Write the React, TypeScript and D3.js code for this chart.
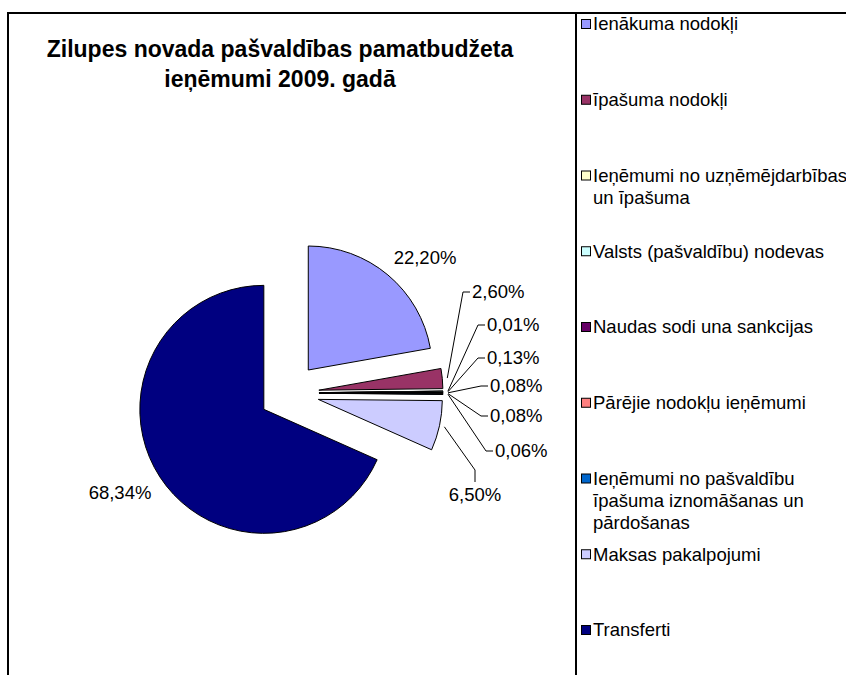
import React, { useEffect, useRef } from "react";
import * as d3 from "d3";

// Chart data
const categories = [
  "Ienākuma nodokļi",
  "Īpašuma nodokļi",
  "Ieņēmumi no uzņēmējdarbības un īpašuma",
  "Valsts (pašvaldību) nodevas",
  "Naudas sodi una sankcijas",
  "Pārējie nodokļu ieņēmumi",
  "Ieņēmumi no pašvaldību īpašuma iznomāšanas un pārdošanas",
  "Maksas pakalpojumi",
  "Transferti",
];
const values = [22.2, 2.6, 0.01, 0.13, 0.08, 0.08, 0.06, 6.5, 68.34];
const valueLabels = ["22,20%", "2,60%", "0,01%", "0,13%", "0,08%", "0,08%", "0,06%", "6,50%", "68,34%"];
const colors = ["#9999FF", "#993366", "#FFFFCC", "#CCFFFF", "#660066", "#FF8080", "#0066CC", "#CCCCFF", "#000080"];
const legendLines = [
  ["Ienākuma nodokļi"],
  ["īpašuma nodokļi"],
  ["Ieņēmumi no uzņēmējdarbības", "un īpašuma"],
  ["Valsts (pašvaldību) nodevas"],
  ["Naudas sodi una sankcijas"],
  ["Pārējie nodokļu ieņēmumi"],
  ["Ieņēmumi no pašvaldību", "īpašuma iznomāšanas un", "pārdošanas"],
  ["Maksas pakalpojumi"],
  ["Transferti"],
];
const titleLines = ["Zilupes novada pašvaldības pamatbudžeta", "ieņēmumi 2009. gadā"];

// label placement (layout only): x, y, anchor, leader type
const labelLayout: { x: number; y: number; anchor: string; leader: "none" | "side" | "down" }[] = [
  { x: 425, y: 258, anchor: "middle", leader: "none" },
  { x: 472, y: 292, anchor: "start", leader: "side" },
  { x: 487, y: 325, anchor: "start", leader: "side" },
  { x: 487, y: 358, anchor: "start", leader: "side" },
  { x: 490, y: 386, anchor: "start", leader: "side" },
  { x: 490, y: 416, anchor: "start", leader: "side" },
  { x: 495, y: 451, anchor: "start", leader: "side" },
  { x: 475, y: 495, anchor: "middle", leader: "down" },
  { x: 120, y: 493, anchor: "middle", leader: "none" },
];

const FONT = "'Liberation Sans', Arial, sans-serif";

const App: React.FC = () => {
  const svgRef = useRef<SVGSVGElement | null>(null);

  useEffect(() => {
    if (!svgRef.current) return;
    const svg = d3.select(svgRef.current);
    svg.selectAll("*").remove();

    const width = 846;
    const height = 675;
    svg.attr("width", width).attr("height", height);

    // frame
    svg.append("rect").attr("x", 0).attr("y", 0).attr("width", width).attr("height", height).attr("fill", "#fff");
    const frame = svg.append("g").attr("stroke", "#000").attr("stroke-width", 2);
    frame.append("line").attr("x1", 7).attr("x2", width).attr("y1", 13).attr("y2", 13);
    frame.append("line").attr("x1", 8).attr("x2", 8).attr("y1", 13).attr("y2", height);
    frame.append("line").attr("x1", 576).attr("x2", 576).attr("y1", 13).attr("y2", height);

    // title
    svg
      .append("g")
      .selectAll("text")
      .data(titleLines)
      .enter()
      .append("text")
      .attr("x", 280)
      .attr("y", (_, i) => 57 + i * 30)
      .attr("text-anchor", "middle")
      .attr("font-family", FONT)
      .attr("font-weight", "bold")
      .attr("font-size", "23px")
      .text((d) => d);

    // pie
    const cx = 289;
    const cy = 393;
    const radius = 124;
    const explode = 30;

    const pie = d3
      .pie<number>()
      .sort(null)
      .value((d) => d)
      .startAngle(0)
      .endAngle(2 * Math.PI);
    const arcs = pie(values);
    const arc = d3.arc<d3.PieArcDatum<number>>().innerRadius(0).outerRadius(radius);

    const dir = (a: number) => [Math.sin(a), -Math.cos(a)];
    const mid = (d: d3.PieArcDatum<number>) => (d.startAngle + d.endAngle) / 2;

    const pieG = svg.append("g").attr("transform", `translate(${cx},${cy})`);
    pieG
      .selectAll("path")
      .data(arcs)
      .enter()
      .append("path")
      .attr("transform", (d) => {
        const [dx, dy] = dir(mid(d));
        return `translate(${dx * explode},${dy * explode})`;
      })
      .attr("d", arc)
      .attr("fill", (_, i) => colors[i])
      .attr("stroke", "#000")
      .attr("stroke-width", 1)
      .attr("stroke-linejoin", "round");

    // leader lines
    const leaders = svg.append("g").attr("fill", "none").attr("stroke", "#000").attr("stroke-width", 1);
    arcs.forEach((d, i) => {
      const lay = labelLayout[i];
      if (lay.leader === "none") return;
      const [dx, dy] = dir(mid(d));
      const sx = cx + dx * (explode + radius + 5);
      const sy = cy + dy * (explode + radius + 5);
      let pts: [number, number][];
      if (lay.leader === "side") {
        pts = [
          [sx, sy],
          [lay.x - 9, lay.y],
          [lay.x - 2, lay.y],
        ];
      } else {
        pts = [
          [sx, sy],
          [lay.x, lay.y - 25],
          [lay.x, lay.y - 13],
        ];
      }
      leaders.append("path").attr("d", d3.line()(pts));
    });

    // value labels
    svg
      .append("g")
      .selectAll("text")
      .data(valueLabels)
      .enter()
      .append("text")
      .attr("x", (_, i) => labelLayout[i].x)
      .attr("y", (_, i) => labelLayout[i].y)
      .attr("dy", "0.35em")
      .attr("text-anchor", (_, i) => labelLayout[i].anchor)
      .attr("font-family", FONT)
      .attr("font-size", "18.5px")
      .attr("fill", "#000")
      .text((d) => d);

    // legend
    const legendX = 581;
    const legendY0 = 24;
    const legendStep = 75.75;
    const legend = svg.append("g");
    const items = legend
      .selectAll("g")
      .data(categories)
      .enter()
      .append("g")
      .attr("transform", (_, i) => `translate(${legendX},${legendY0 + i * legendStep})`);
    items
      .append("rect")
      .attr("x", 0.5)
      .attr("y", -4.5)
      .attr("width", 9)
      .attr("height", 9)
      .attr("fill", (_, i) => colors[i])
      .attr("stroke", "#000")
      .attr("stroke-width", 1);
    items.each(function (_, i) {
      const g = d3.select(this);
      legendLines[i].forEach((line, j) => {
        g.append("text")
          .attr("x", 12)
          .attr("y", j * 22)
          .attr("dy", "0.35em")
          .attr("font-family", FONT)
          .attr("font-size", "18.5px")
          .attr("fill", "#000")
          .text(line);
      });
    });
  }, []);

  return (
    <div style={{ position: "absolute", left: 0, top: 0, width: 846, height: 675, overflow: "hidden" }}>
      <svg ref={svgRef} style={{ display: "block" }} />
    </div>
  );
};

export default App;
